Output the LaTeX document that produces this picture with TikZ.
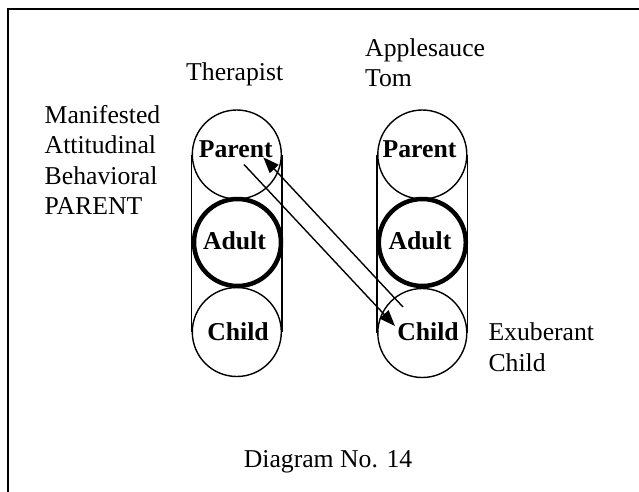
\documentclass[tikz,border=0pt]{standalone}
\usepackage{fontspec}
\setmainfont{Liberation Serif}
\usetikzlibrary{arrows.meta}
\begin{document}
\begin{tikzpicture}[x=1pt,y=-1pt,
  thin line/.style={line width=1.4pt},
  ring/.style={circle,draw,thin line,minimum size=89pt,inner sep=0pt},
  thick ring/.style={circle,draw,line width=4.5pt,minimum size=87pt,inner sep=0pt},
  lbl/.style={inner sep=0pt,anchor=base west,font=\fontsize{25.7}{30}\selectfont},
  ego/.style={inner sep=0pt,anchor=base,font=\fontsize{25.7}{30}\selectfont\bfseries},
  msg/.style={thin line,-{Triangle[length=16pt,width=12pt]}}]
\useasboundingbox (0,0) rectangle (639,491);
% outer frame (runs off the right and bottom edges)
\draw[line width=2pt] (7.5,8.5) rectangle (700,600);

% left column: Therapist
\node[ring] (tp) at (236.8,154.5) {};
\node[thick ring] (ta) at (237.5,242.5) {};
\node[ring] (tc) at (236.8,332) {};
\draw[thin line] (tp.west) -- (tc.west);
\draw[thin line] (tp.east) -- (tc.east);
\node[ego] (tpt) at (235.8,157.3) {Parent};
\node[ego] (tat) at (234.5,249.3) {Adult};
\node[ego] (tct) at (238,340.7) {Child};

% right column: Applesauce Tom
\node[ring] (ap) at (422.3,154.5) {};
\node[thick ring] (aa) at (422.3,242.5) {};
\node[ring] (ac) at (422.3,333) {};
\draw[thin line] (ap.west) -- (ac.west);
\draw[thin line] (ap.east) -- (ac.east);
\node[ego] (apt) at (419.5,157.3) {Parent};
\node[ego] (aat) at (420,249.3) {Adult};
\node[ego] (act) at (428,340.7) {Child};

% crossed transaction
\coordinate (s1) at (244,164.5);
\coordinate (e1) at (395,326);
\coordinate (s2) at (403,307);
\coordinate (e2) at (263.3,157.3);
\draw[msg] (s1) -- (e1);
\draw[msg] (s2) -- (e2);

% labels
\node[lbl] (ther) at (186,80.7) {Therapist};
\node[lbl] (app1) at (365,56.5) {Applesauce};
\node[lbl] (app2) at (365,86.5) {Tom};
\node[lbl] (m1) at (44.5,123.3) {Manifested};
\node[lbl] (m2) at (44.5,153.8) {Attitudinal};
\node[lbl] (m3) at (44.5,184.3) {Behavioral};
\node[lbl] (m4) at (44.5,214.8) {PARENT};
\node[lbl] (x1) at (488.3,340) {Exuberant};
\node[lbl] (x2) at (488.3,371.5) {Child};
\node[lbl] (cap) at (243.6,467.3) {Diagram No. 14};
\end{tikzpicture}
\end{document}
